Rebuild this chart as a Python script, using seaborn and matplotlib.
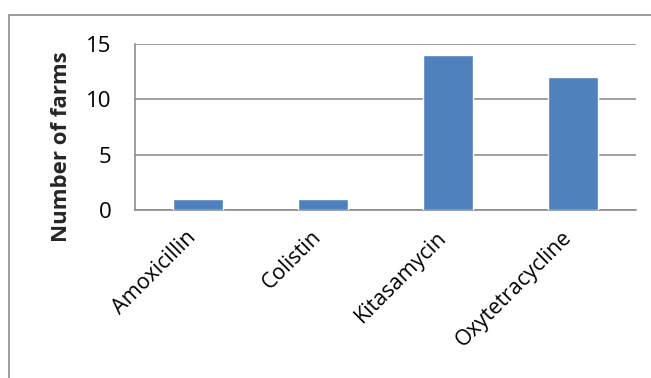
import matplotlib
matplotlib.use("Agg")
import matplotlib.pyplot as plt
import matplotlib.transforms as mtransforms
import numpy as np
import pandas as pd
import seaborn as sns
from matplotlib.patches import Rectangle

antibiotics = ["Amoxicillin", "Colistin", "Kitasamycin", "Oxytetracycline"]
farms = [1, 1, 14, 12]
yticks = [0, 5, 10, 15]

sns.set_style("white")
plt.rcParams["font.family"] = ["Open Sans", "DejaVu Sans"]

df = pd.DataFrame({"antibiotic": antibiotics, "farms": farms})

fig = plt.figure(figsize=(6.51, 3.78), dpi=100)
ax = fig.add_axes([135 / 651, 1 - 210 / 378, (636 - 135) / 651, (210 - 44) / 378])

# outer chart border
fig.patches.append(Rectangle((9 / 651, -0.01), 1.0, 1 - 15 / 378 + 0.01,
                             transform=fig.transFigure, fill=False,
                             edgecolor="#8c8c8c", linewidth=1.2))

sns.barplot(data=df, x="antibiotic", y="farms", color="#4f81bd",
            saturation=1, width=0.4, ax=ax, zorder=3)

ax.set_ylim(0, 15)
ax.set_xlim(-0.5, 3.5)
ax.set_yticks(yticks)
ax.yaxis.grid(True, color="#868686", linewidth=1.1, zorder=0)
ax.set_axisbelow(True)
for s in ["top", "right"]:
    ax.spines[s].set_visible(False)
for s in ["left", "bottom"]:
    ax.spines[s].set_color("#868686")
    ax.spines[s].set_linewidth(1.1)

ax.set_xticks(np.arange(-0.5, 4, 1), minor=True)
ax.tick_params(axis="x", which="major", length=0, pad=12, labelsize=15.5)
ax.tick_params(axis="x", which="minor", length=8, color="#868686", width=1.1, direction="out")
ax.tick_params(axis="y", length=8, color="#868686", width=1.1, direction="out",
               pad=9, labelsize=16)
ax.tick_params(axis="both", labelcolor="black")

# shift rotated labels a little to the left, like the original
shift = mtransforms.ScaledTranslation(-0.12, 0, fig.dpi_scale_trans)
for lbl in ax.get_xticklabels():
    lbl.set_rotation(45)
    lbl.set_ha("right")
    lbl.set_rotation_mode("anchor")
    lbl.set_transform(lbl.get_transform() + shift)

ax.set_xlabel("")
ax.set_ylabel("Number of farms", fontsize=16, fontweight="bold")
ax.yaxis.set_label_coords(-0.125, 0.38)

fig.savefig("out.png", dpi=100)
